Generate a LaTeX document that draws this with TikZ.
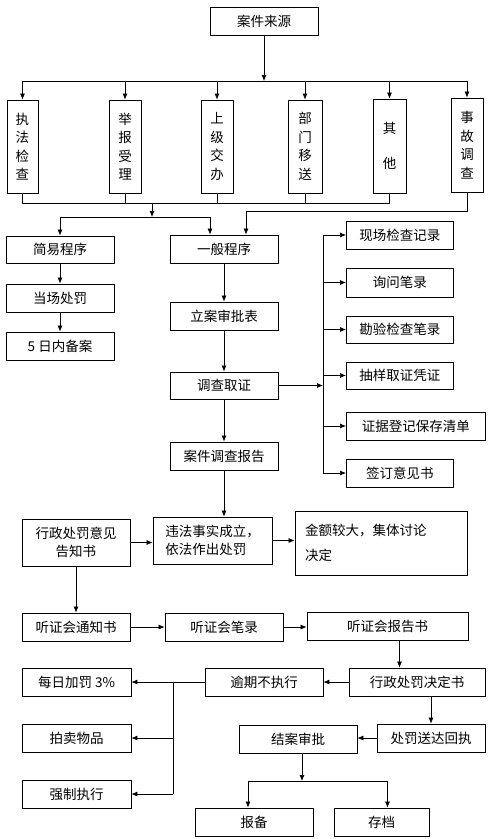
\documentclass[tikz,border=0pt]{standalone}
\usepackage{fontspec}
\setmainfont{Noto Sans CJK SC}
\usepackage{tikz}
\usetikzlibrary{arrows.meta}

\tikzset{
    box/.style={draw, line width=0.8pt, inner sep=0pt, align=center,
        font=\fontsize{13.5}{18.5}\selectfont},
    arr/.style={-{Latex[length=6pt,width=5pt]}, line width=0.7pt},
    ln/.style={line width=0.7pt}
}

\begin{document}
\begin{tikzpicture}[x=1pt, y=-1pt]
        \useasboundingbox (0,0) rectangle (490,839);
        \pgfmathsetmacro{\bw}{108};
        \pgfmathsetmacro{\bh}{28};
        \node [box, minimum width=\bw, minimum height=\bh] (src) at (264,21) {案件来源};
        \node [box, minimum width=31, minimum height=93] (s1) at (22.5,146.5) {执\\法\\检\\查};
        \node [box, minimum width=32, minimum height=93] (s2) at (125,146.5) {举\\报\\受\\理};
        \node [box, minimum width=32, minimum height=93] (s3) at (217,146.5) {上\\级\\交\\办};
        \node [box, minimum width=34, minimum height=93] (s4) at (305,146.5) {部\\门\\移\\送};
        \node [box, minimum width=33, minimum height=94] (s5) at (389.5,146) {其\\[17pt]他};
        \node [box, minimum width=32, minimum height=94] (s6) at (467,145) {事\\故\\调\\查};
        \coordinate (bus) at (0,81);
        \draw [arr] (src.south) -- (src.south |- bus);
        \draw [ln] (s1.north |- bus) -- (s6.north |- bus);
        \foreach \n in {s1,s2,s3,s4,s5,s6}
            \draw [arr] (\n.north |- bus) -- (\n.north);
        % bottom collector
        \coordinate (low) at (0,203);
        \draw [ln] (s1.south) -- (s1.south |- low) -- (s5.south |- low) -- (s5.south);
        \foreach \n in {s2,s3,s4}
            \draw [ln] (\n.south) -- (\n.south |- low);
        \node [box, minimum width=\bw, minimum height=27] (easy) at (60,249.5) {简易程序};
        \node [box, minimum width=\bw, minimum height=\bh] (spot) at (60,298) {当场处罚};
        \node [box, minimum width=\bw, minimum height=\bh] (five) at (60,346) {5 日内备案};
        \node [box, minimum width=\bw, minimum height=\bh] (gen) at (224,249) {一般程序};
        \node [box, minimum width=\bw, minimum height=\bh] (reg) at (224,316) {立案审批表};
        \node [box, minimum width=\bw, minimum height=27] (inv) at (224,385.5) {调查取证};
        \node [box, minimum width=\bw, minimum height=\bh] (rep) at (224,456) {案件调查报告};
        \coordinate (j1) at (152,203);
        \coordinate (j2) at (152,217);
        \draw [arr] (j1) -- (j2);
        \draw [arr] (j2) -| (easy.north);
        \draw [arr] (j2) -| ([xshift=-14]gen.north);
        \coordinate (acc) at (246,211);
        \draw [arr] (s6.south) |- (acc) -- ([xshift=22]gen.north);
        \draw [arr] (easy) -- (spot);
        \draw [arr] (spot) -- (five);
        \draw [arr] (gen) -- (reg);
        \draw [arr] (reg) -- (inv);
        \draw [arr] (inv) -- (rep);
        % evidence list
        \node [box, minimum width=107, minimum height=28, anchor=west] (e1) at (346,235) {现场检查记录};
        \node [box, minimum width=107, minimum height=29, anchor=west] (e2) at (346,282.5) {询问笔录};
        \node [box, minimum width=107, minimum height=27, anchor=west] (e3) at (346,329.5) {勘验检查笔录};
        \node [box, minimum width=107, minimum height=27, anchor=west] (e4) at (346,375.5) {抽样取证凭证};
        \node [box, minimum width=139, minimum height=28, anchor=west] (e5) at (346,426) {证据登记保存清单};
        \node [box, minimum width=107, minimum height=28, anchor=west] (e6) at (346,473) {签订意见书};
        \coordinate (ev) at (323,0);
        \draw [arr] (inv.east) -- (inv.east -| ev);
        \draw [ln] (e1.west -| ev) -- (e6.west -| ev);
        \foreach \n in {e1,e2,e3,e4,e5,e6}
            \draw [arr] (\n.west -| ev) -- (\n.west);
        % decision
        \node [box, minimum width=\bw, minimum height=47] (notice) at (76,542.5) {行政处罚意见\\告知书};
        \node [box, minimum width=119, minimum height=47, align=left] (fact) at (212.5,540.5) {违法事实成立，\\依法作出处罚};
        \node [box, minimum width=172, minimum height=64, text width=152, inner xsep=10pt, align=left,
            font=\fontsize{13.5}{25}\selectfont] (big) at (381,543) {金额较大，集体讨论\\决定};
        \draw [arr] (rep.south) -- (rep.south |- fact.north);
        \draw [arr] (notice.east) -- (notice.east -| fact.west);
        \draw [arr] (fact.east) -- (fact.east -| big.west);
        \node [box, minimum width=\bw, minimum height=\bh] (hear) at (76,627) {听证会通知书};
        \node [box, minimum width=118, minimum height=\bh] (rec) at (224,627) {听证会笔录};
        \node [box, minimum width=161, minimum height=\bh] (hrep) at (387.5,626) {听证会报告书};
        \draw [arr] (notice) -- (hear);
        \draw [arr] (hear) -- (rec);
        \draw [arr] (rec.east) -- (rec.east -| hrep.west);
        % execution
        \node [box, minimum width=136, minimum height=\bh] (dec) at (417,682) {行政处罚决定书};
        \node [box, minimum width=118, minimum height=\bh] (late) at (264,682) {逾期不执行};
        \node [box, minimum width=109, minimum height=\bh] (daily) at (76.5,682) {每日加罚 3\%};
        \node [box, minimum width=109, minimum height=\bh] (sale) at (76.5,738) {拍卖物品};
        \node [box, minimum width=109, minimum height=\bh] (force) at (76.5,794) {强制执行};
        \draw [arr] ([xshift=12]hrep.south) -- ([xshift=12]hrep.south |- dec.north);
        \draw [arr] (dec) -- (late);
        \draw [arr] (late) -- (daily);
        \coordinate (br) at (173,0);
        \draw [ln] (late.west -| br) -- (force.east -| br);
        \draw [arr] (sale.east -| br) -- (sale.east);
        \draw [arr] (force.east -| br) -- (force.east);
        \node [box, minimum width=\bw, minimum height=\bh] (serv) at (431,738) {处罚送达回执};
        \node [box, minimum width=118, minimum height=\bh] (close) at (298,739) {结案审批};
        \node [box, minimum width=118, minimum height=\bh] (bak) at (254,822) {报备};
        \node [box, minimum width=95, minimum height=\bh] (arc) at (381.5,822) {存档};
        \draw [arr] (serv.north |- dec.south) -- (serv.north);
        \draw [arr] (serv.west) -- (serv.west -| close.east);
        \coordinate (cl) at (302,781);
        \draw [arr] (close.south -| cl) -- (cl);
        \draw [arr] (cl) -| ([xshift=-6]bak.north);
        \draw [arr] (cl) -| ([xshift=6]arc.north);
\end{tikzpicture}
\end{document}
